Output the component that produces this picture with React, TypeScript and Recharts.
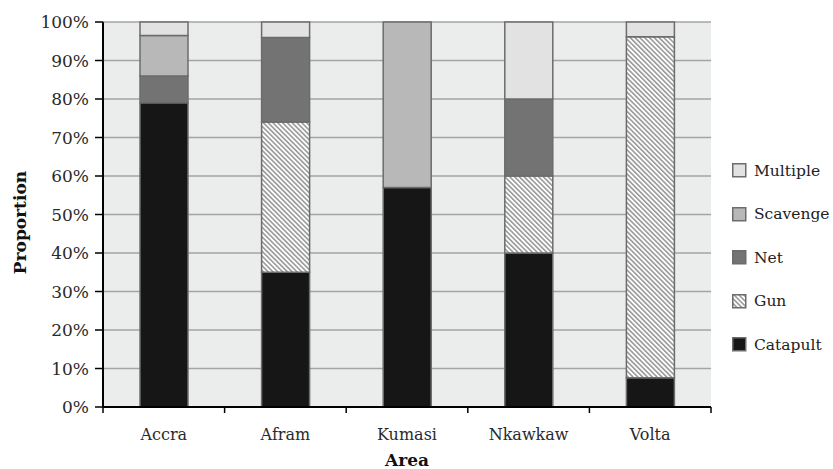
import React from 'react';
import { BarChart, Bar, XAxis, YAxis, CartesianGrid, Legend, Label } from 'recharts';

const categories = ['Accra', 'Afram', 'Kumasi', 'Nkawkaw', 'Volta'];
const catapult = [79, 35, 57, 40, 7.6];
const gun = [0, 39, 0, 20, 88.6];
const net = [7, 22, 0, 20, 0];
const scavenge = [10.5, 0, 43, 0, 0];
const multiple = [3.5, 4, 0, 20, 3.8];
const yTicks = [0, 10, 20, 30, 40, 50, 60, 70, 80, 90, 100];

const data = categories.map((area, i) => ({
  area,
  Catapult: catapult[i],
  Gun: gun[i],
  Net: net[i],
  Scavenge: scavenge[i],
  Multiple: multiple[i],
}));

const W = 833;
const H = 469;
const M = { top: 22, right: 122, bottom: 0, left: 0 };
const Y_W = 103;
const X_H = 62;
const plotW = W - M.left - M.right - Y_W;
const band = plotW / categories.length;
const FONT = '"DejaVu Serif", serif';
const STROKE = '#6c6c6c';

const series = [
  { key: 'Catapult', fill: '#161616' },
  { key: 'Gun', fill: 'url(#hatch)' },
  { key: 'Net', fill: '#737373' },
  { key: 'Scavenge', fill: '#b8b8b8' },
  { key: 'Multiple', fill: '#e2e2e2' },
];

const XTick = (props: any) => {
  const { x, y, payload, index } = props;
  const axisY = y - 22;
  const left = x - band / 2;
  return (
    <g>
      <line x1={left} y1={axisY} x2={left} y2={axisY + 6} stroke="#000" strokeWidth={1.5} />
      {index === categories.length - 1 && (
        <line x1={x + band / 2} y1={axisY} x2={x + band / 2} y2={axisY + 6} stroke="#000" strokeWidth={1.5} />
      )}
      <text x={x} y={y} dy="0.71em" textAnchor="middle" fontFamily={FONT} fontSize={16} fill="#2a2a2a">
        {payload.value}
      </text>
    </g>
  );
};

const LegendContent = () => {
  const items = [...series].reverse();
  return (
    <div style={{ fontFamily: FONT, fontSize: 15.5, color: '#222' }}>
      {items.map((it) => (
        <div key={it.key} style={{ height: 43.5, display: 'flex', alignItems: 'center', whiteSpace: 'nowrap' }}>
          <svg width={15} height={15} style={{ marginRight: 7, flexShrink: 0 }}>
            <rect x={0.75} y={0.75} width={13} height={13} fill={it.fill} stroke={STROKE} strokeWidth={1.5} />
          </svg>
          <span>{it.key}</span>
        </div>
      ))}
    </div>
  );
};

export default function App() {
  return (
    <div style={{ position: 'absolute', left: 0, top: 0, width: W, height: H, background: '#fff' }}>
      <BarChart width={W} height={H} data={data} margin={M} barSize={48}>
        <defs>
          <pattern id="hatch" width={3.4} height={3.4} patternUnits="userSpaceOnUse" patternTransform="rotate(-45)">
            <rect width={3.4} height={3.4} fill="#ffffff" />
            <line x1={0.8} y1={0} x2={0.8} y2={3.4} stroke="#8a8a8a" strokeWidth={1.4} />
          </pattern>
        </defs>
        <CartesianGrid vertical={false} fill="#ebecec" stroke="#a4a4a4" strokeWidth={1.4} />
        <XAxis
          dataKey="area"
          height={X_H}
          tickLine={false}
          axisLine={{ stroke: '#000', strokeWidth: 2 }}
          tickSize={6}
          tickMargin={16}
          tick={<XTick />}
          interval={0}
        >
          <Label
            content={(p: any) => {
              const vb = p.viewBox;
              return (
                <text
                  x={vb.x + vb.width / 2}
                  y={vb.y + vb.height - 3}
                  textAnchor="middle"
                  fontFamily={FONT}
                  fontSize={17}
                  fontWeight="bold"
                  fill="#111"
                >
                  Area
                </text>
              );
            }}
          />
        </XAxis>
        <YAxis
          width={Y_W}
          domain={[0, 100]}
          ticks={yTicks}
          interval={0}
          tickFormatter={(v: number) => `${v}%`}
          tickSize={8}
          tickMargin={6}
          tickLine={{ stroke: '#000', strokeWidth: 1.5 }}
          axisLine={{ stroke: '#000', strokeWidth: 2 }}
          tick={{ fontFamily: FONT, fontSize: 17, fill: '#2a2a2a' }}
        >
          <Label
            content={(p: any) => {
              const vb = p.viewBox;
              const cx = 20;
              const cy = vb.y + vb.height / 2 + 8;
              return (
                <text
                  x={cx}
                  y={cy}
                  transform={`rotate(-90, ${cx}, ${cy})`}
                  textAnchor="middle"
                  dominantBaseline="central"
                  fontFamily={FONT}
                  fontSize={17}
                  fontWeight="bold"
                  fill="#111"
                >
                  Proportion
                </text>
              );
            }}
          />
        </YAxis>
        <Legend
          layout="horizontal"
          verticalAlign="middle"
          align="center"
          wrapperStyle={{ left: 732, top: 149, width: 101 }}
          content={<LegendContent />}
        />
        {series.map((s) => (
          <Bar
            key={s.key}
            dataKey={s.key}
            stackId="a"
            fill={s.fill}
            stroke={STROKE}
            strokeWidth={1.5}
            isAnimationActive={false}
          />
        ))}
      </BarChart>
    </div>
  );
}
